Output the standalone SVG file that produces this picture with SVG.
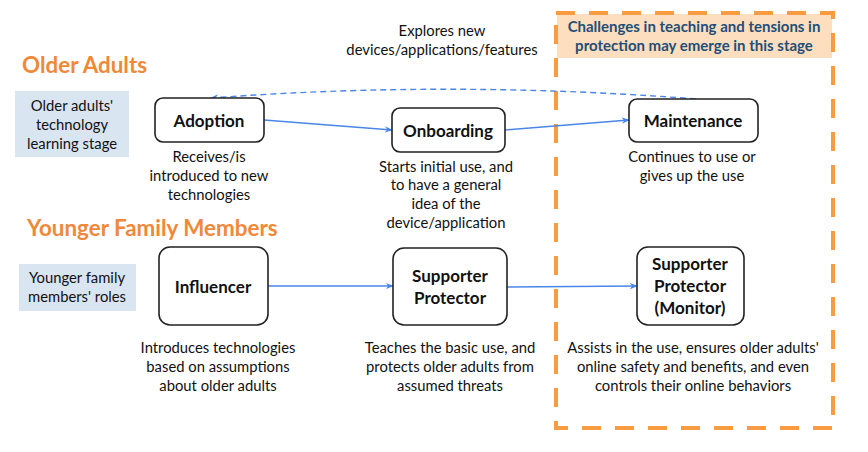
<svg xmlns="http://www.w3.org/2000/svg" width="868" height="452" viewBox="0 0 868 452">
<defs>
<style>
text{font-family:Lato,"Liberation Sans",sans-serif;fill:#111;text-anchor:middle}
.t{font-size:14.8px}
.n{font-size:17px;font-weight:bold}
.h{font-size:22.4px;font-weight:bold;fill:#F0883A;text-anchor:start}
.c{font-size:15px;font-weight:bold;fill:#1F4E79}
.box{fill:#fff;stroke:#222;stroke-width:1.6}
.lab{fill:#DAE5F2}
.con{fill:none;stroke:#4A86E8;stroke-width:1.4}
</style>
<marker id="ah" viewBox="0 0 10 10" refX="9" refY="5" markerWidth="8" markerHeight="8" orient="auto" markerUnits="userSpaceOnUse">
<path d="M0,1 L10,5 L0,9 L3,5 Z" fill="#4A86E8"/>
</marker>
</defs>
<rect width="868" height="452" fill="#fff"/>

<g id="stage-region">
<rect x="557" y="14" width="275" height="44" fill="#FDDEBE"/>
<rect x="556" y="13" width="277" height="415" fill="none" stroke="#F99B40" stroke-width="4" stroke-dasharray="19,14"/>
<text class="c" x="694" y="32">Challenges in teaching and tensions in</text>
<text class="c" x="694" y="51">protection may emerge in this stage</text>
</g>

<g id="headings">
<text class="h" x="22" y="73">Older Adults</text>
<text class="h" x="27" y="236">Younger Family Members</text>
</g>

<g id="label-older">
<rect class="lab" x="15" y="91" width="114" height="66"/>
<text class="t" x="72" y="111">Older adults'</text>
<text class="t" x="72" y="130">technology</text>
<text class="t" x="72" y="149">learning stage</text>
</g>
<g id="label-younger">
<rect class="lab" x="19" y="264" width="117" height="47"/>
<text class="t" x="77" y="283">Younger family</text>
<text class="t" x="77" y="302">members' roles</text>
</g>

<g id="connectors">
<path class="con" d="M264,120 L392,130" marker-end="url(#ah)"/>
<path class="con" d="M505,130 L629,120" marker-end="url(#ah)"/>
<path class="con" d="M696,99 Q452,80 211,98" stroke-dasharray="6,4" marker-end="url(#ah)"/>
<path class="con" d="M268,286 L393,286" marker-end="url(#ah)"/>
<path class="con" d="M507,287 L637,286" marker-end="url(#ah)"/>
</g>

<g id="explores-label">
<text class="t" x="442" y="36">Explores new</text>
<text class="t" x="442" y="55">devices/applications/features</text>
</g>

<g id="adoption">
<rect class="box" x="155" y="98" width="109" height="44" rx="8"/>
<text class="n" x="209" y="127">Adoption</text>
<text class="t" x="209" y="162">Receives/is</text>
<text class="t" x="209" y="181">introduced to new</text>
<text class="t" x="209" y="200">technologies</text>
</g>
<g id="onboarding">
<rect class="box" x="392" y="108" width="113" height="44" rx="8"/>
<text class="n" x="448" y="137">Onboarding</text>
<text class="t" x="446" y="172">Starts initial use, and</text>
<text class="t" x="446" y="190">to have a general</text>
<text class="t" x="446" y="209">idea of the</text>
<text class="t" x="446" y="228">device/application</text>
</g>
<g id="maintenance">
<rect class="box" x="629" y="99" width="129" height="43" rx="8"/>
<text class="n" x="693" y="127">Maintenance</text>
<text class="t" x="692" y="162">Continues to use or</text>
<text class="t" x="692" y="181">gives up the use</text>
</g>
<g id="influencer">
<rect class="box" x="159" y="247" width="109" height="78" rx="11"/>
<text class="n" x="213" y="293">Influencer</text>
<text class="t" x="218" y="353">Introduces technologies</text>
<text class="t" x="218" y="372">based on assumptions</text>
<text class="t" x="218" y="391">about older adults</text>
</g>
<g id="supporter-protector">
<rect class="box" x="393" y="248" width="114" height="77" rx="11"/>
<text class="n" x="450" y="282">Supporter</text>
<text class="n" x="450" y="304">Protector</text>
<text class="t" x="450" y="353">Teaches the basic use, and</text>
<text class="t" x="450" y="372">protects older adults from</text>
<text class="t" x="450" y="391">assumed threats</text>
</g>
<g id="supporter-monitor">
<rect class="box" x="637" y="247" width="107" height="78" rx="11"/>
<text class="n" x="690" y="270">Supporter</text>
<text class="n" x="690" y="292">Protector</text>
<text class="n" x="690" y="314">(Monitor)</text>
<text class="t" x="693" y="353">Assists in the use, ensures older adults'</text>
<text class="t" x="693" y="372">online safety and benefits, and even</text>
<text class="t" x="693" y="391">controls their online behaviors</text>
</g>
</svg>
